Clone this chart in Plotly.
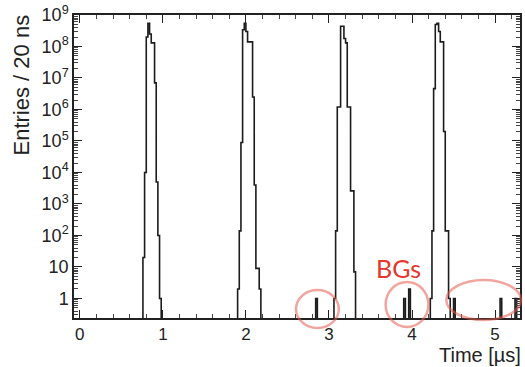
import numpy as np
import plotly.graph_objects as go

# ---- data ----
bin_width_us = 0.02
hist_start_us = -0.1
hist_end_us = 5.34

peak_starts_us = [0.76, 1.90, 3.06, 4.22]
peak1_counts = [20, 1e4, 2e8, 5.5e8, 2.5e8, 1.3e8, 1.3e8, 7e6, 5e3, 100, 1]
peak2_counts = [2, 140, 9e4, 3.4e8, 5.5e8, 3e8, 1.4e8, 1.4e8, 1.4e8, 2.5e6, 4e3, 9, 9, 2]
peak3_counts = [1, 140, 1.2e6, 1.2e6, 4.4e8, 4.4e8, 1.8e8, 1.3e8, 1.2e6, 1.2e6, 2.6e3, 2.6e3, 7]
peak4_counts = [1, 140, 4.6e6, 5e8, 5.5e8, 3e8, 1.4e8, 1.4e8, 2e5, 140, 140, 1]
peak_counts = [peak1_counts, peak2_counts, peak3_counts, peak4_counts]

bg_times_us = [2.84, 3.90, 3.96, 4.50, 5.06, 5.24]
bg_counts = [1, 1, 2, 1, 1, 1]

x_tick_vals = [0, 1, 2, 3, 4, 5]
y_tick_vals = [1, 10, 1e2, 1e3, 1e4, 1e5, 1e6, 1e7, 1e8, 1e9]
y_tick_text = ["1", "10", "10<sup>2</sup>", "10<sup>3</sup>", "10<sup>4</sup>",
               "10<sup>5</sup>", "10<sup>6</sup>", "10<sup>7</sup>", "10<sup>8</sup>",
               "10<sup>9</sup>"]

# ---- build histogram ----
n_bins = int(round((hist_end_us - hist_start_us) / bin_width_us))
counts = np.zeros(n_bins)
for start, vals in zip(peak_starts_us, peak_counts):
    i0 = int(round((start - hist_start_us) / bin_width_us))
    counts[i0:i0 + len(vals)] = vals
for t, c in zip(bg_times_us, bg_counts):
    counts[int(round((t - hist_start_us) / bin_width_us))] = c

edges = hist_start_us + bin_width_us * np.arange(n_bins + 1)
y_plot = np.where(counts > 0, counts, 1e-3)
y_plot = np.append(y_plot, y_plot[-1])

minor_y = [k * 10.0 ** e for e in range(-1, 9) for k in range(2, 10)]
minor_x = [round(v, 2) for v in np.arange(0, 5.4, 0.2) if abs(v - round(v)) > 1e-6]

fig = go.Figure()
fig.add_trace(go.Scatter(
    x=edges, y=y_plot, mode="lines", line_shape="hv",
    line=dict(color="#1c1c1c", width=1.6), hoverinfo="skip", showlegend=False,
))

axis_font = dict(family="Liberation Sans, Arial, sans-serif", size=18, color="#222")
xtick_font = dict(family="Liberation Sans, Arial, sans-serif", size=17, color="#222")

fig.update_layout(
    width=525, height=367,
    margin=dict(l=74, r=3, t=15, b=49),
    paper_bgcolor="white", plot_bgcolor="white",
    font=axis_font,
    xaxis=dict(
        range=[-0.07, 5.3], tickvals=x_tick_vals, ticks="inside", ticklen=8,
        tickwidth=1.2, tickcolor="#222", showline=True, linecolor="#222",
        linewidth=1.5, mirror="ticks", showgrid=False, zeroline=False,
        tickfont=xtick_font,
        minor=dict(tickvals=minor_x, ticks="inside", ticklen=4,
                   tickwidth=1, tickcolor="#444", showgrid=False),
    ),
    yaxis=dict(
        type="log", range=[-0.62, 9.0], tickvals=y_tick_vals, ticktext=y_tick_text,
        ticks="inside", ticklen=8, tickwidth=1.2, tickcolor="#222",
        showline=True, linecolor="#222", linewidth=1.5, mirror="ticks",
        showgrid=False, zeroline=False, tickfont=axis_font,
        minor=dict(tickvals=minor_y, ticks="inside", ticklen=4,
                   tickwidth=1, tickcolor="#444", showgrid=False),
    ),
)

title_font = dict(family="Liberation Sans, Arial, sans-serif", size=22, color="#222")
fig.add_annotation(text="Entries / 20 ns", textangle=-90, xref="paper", yref="paper",
                   x=0, y=1, xanchor="center", yanchor="top", xshift=-53, yshift=2,
                   showarrow=False, font=title_font)
fig.add_annotation(text="Time [µs]", xref="paper", yref="paper", x=1, y=0,
                   xanchor="right", yanchor="bottom", yshift=-50, xshift=3,
                   showarrow=False, font=dict(family="Liberation Sans, Arial, sans-serif",
                                              size=20, color="#222"))
fig.add_annotation(text="BGs", xref="paper", yref="paper",
                   x=(400 - 74) / 448, y=(318 - 268) / 303,
                   xanchor="center", yanchor="middle", showarrow=False,
                   font=dict(family="Lato, sans-serif", size=25, color="#e5372c"))

ellipses_px = [(297, 340, 290, 328), (387, 430, 282, 327), (448, 523, 280, 320)]
for x0, x1, y0, y1 in ellipses_px:
    fig.add_shape(type="circle", xref="paper", yref="paper",
                  x0=(x0 - 74) / 448, x1=(x1 - 74) / 448,
                  y0=(318 - y1) / 303, y1=(318 - y0) / 303,
                  line=dict(color="rgba(232,90,80,0.55)", width=2.5))

fig.write_html("out.html")
